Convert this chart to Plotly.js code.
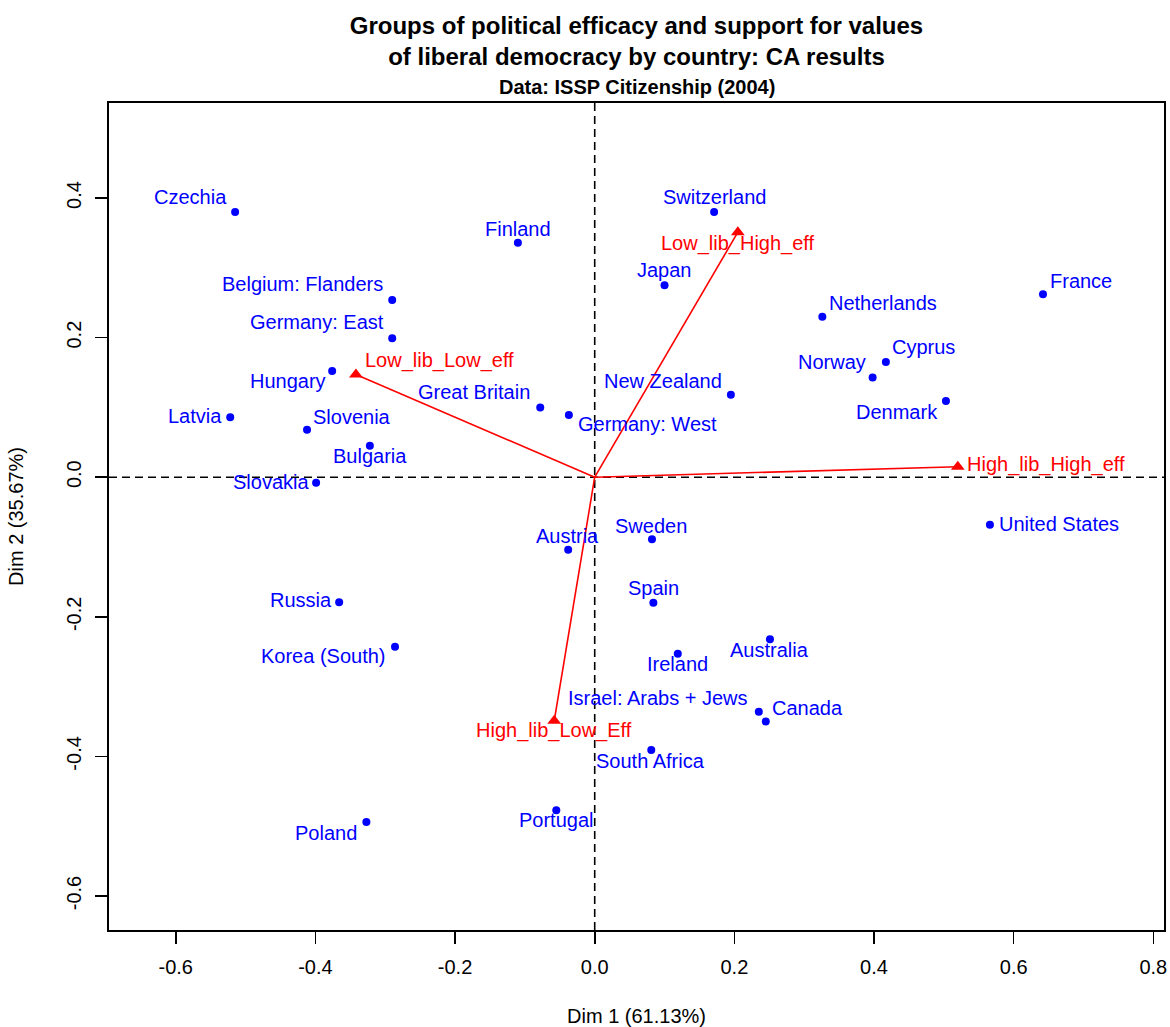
<!DOCTYPE html>
<html>
<head>
<meta charset="utf-8">
<script src="https://cdn.plot.ly/plotly-3.0.1.min.js"></script>
<style>
  html, body { margin: 0; padding: 0; background: #ffffff; }
  #chart { width: 1170px; height: 1027px; }
</style>
</head>
<body>
<div id="chart"></div>
<script>
// Correspondence analysis: country (row) coordinates
const countries = [
  "Czechia", "Finland", "Switzerland", "Japan", "Belgium: Flanders",
  "Germany: East", "Hungary", "Latvia", "Slovenia", "Bulgaria",
  "Slovakia", "Great Britain", "Germany: West", "New Zealand", "Netherlands",
  "France", "Cyprus", "Norway", "Denmark", "United States",
  "Sweden", "Austria", "Spain", "Russia", "Korea (South)",
  "Australia", "Ireland", "Israel: Arabs + Jews", "Canada", "South Africa",
  "Portugal", "Poland"
];
const countryDim1 = [
  -0.515, -0.110, 0.171, 0.100, -0.290,
  -0.290, -0.376, -0.522, -0.412, -0.322,
  -0.399, -0.078, -0.037, 0.195, 0.326,
  0.642, 0.417, 0.398, 0.503, 0.566,
  0.082, -0.038, 0.084, -0.366, -0.286,
  0.251, 0.119, 0.235, 0.245, 0.081,
  -0.055, -0.327
];
const countryDim2 = [
  0.380, 0.336, 0.380, 0.275, 0.254,
  0.199, 0.152, 0.086, 0.068, 0.045,
  -0.008, 0.100, 0.089, 0.118, 0.230,
  0.262, 0.165, 0.143, 0.109, -0.068,
  -0.089, -0.104, -0.180, -0.179, -0.243,
  -0.232, -0.253, -0.336, -0.350, -0.391,
  -0.477, -0.494
];

// Column coordinates: efficacy / liberal-values groups
const groups = ["Low_lib_High_eff", "Low_lib_Low_eff", "High_lib_High_eff", "High_lib_Low_Eff"];
const groupDim1 = [0.205, -0.342, 0.520, -0.058];
const groupDim2 = [0.351, 0.147, 0.015, -0.349];

// Axis ticks
const xTicks = [-0.6, -0.4, -0.2, 0.0, 0.2, 0.4, 0.6, 0.8];
const yTicks = [-0.6, -0.4, -0.2, 0.0, 0.2, 0.4];

// Label placement (pixel offset of each label's centre from its point; +dy = down)
const countryLabelDx = [
  -45, 0, 0, 0, -90,
  -75, -44, -35, 45, 0,
  -45, -66, 79, -68, 61,
  38, 38, -41, -49, 69,
  -1, -1, 0, -38, -72,
  0, 0, -101, 42, -1,
  0, -40
];
const countryLabelDy = [
  -15, -14, -15, -15, -16,
  -16, 10, -1, -13, 10,
  -1, -15, 9, -14, -14,
  -13, -15, -15, 11, -1,
  -13, -14, -15, -2, 9,
  11, 10, -14, -14, 11,
  10, 11
];
const groupLabelDx = [0, 84, 88, 0];
const groupLabelDy = [11, -14, -2, 10];

const FONT = "Liberation Sans, Arial, Helvetica, sans-serif";
const BLUE = "#0000ff";
const RED = "#ff0000";

// Plain hyphen-minus tick text, one decimal
const fmtTick = v => v.toFixed(1);

// Segments from the origin to each group point
const segX = [], segY = [];
groupDim1.forEach((gx, i) => {
  segX.push(0, gx, null);
  segY.push(0, groupDim2[i], null);
});

const traces = [
  {
    type: "scatter", mode: "lines",
    x: segX, y: segY,
    line: { color: RED, width: 1.6 },
    hoverinfo: "skip", showlegend: false
  },
  {
    type: "scatter", mode: "markers",
    x: countryDim1, y: countryDim2, text: countries,
    marker: { color: BLUE, size: 8, symbol: "circle", line: { width: 0 } },
    hoverinfo: "text", showlegend: false
  },
  {
    type: "scatter", mode: "markers",
    x: groupDim1, y: groupDim2, text: groups,
    marker: { color: RED, size: 12, symbol: "triangle-up", line: { width: 0 } },
    hoverinfo: "text", showlegend: false
  }
];

const annotations = [];
countries.forEach((name, i) => {
  annotations.push({
    x: countryDim1[i], y: countryDim2[i], xref: "x", yref: "y",
    text: name, showarrow: false,
    xanchor: "center", yanchor: "middle",
    xshift: countryLabelDx[i], yshift: -countryLabelDy[i],
    font: { family: FONT, size: 20, color: BLUE }
  });
});
groups.forEach((name, i) => {
  annotations.push({
    x: groupDim1[i], y: groupDim2[i], xref: "x", yref: "y",
    text: name, showarrow: false,
    xanchor: "center", yanchor: "middle",
    xshift: groupLabelDx[i], yshift: -groupLabelDy[i],
    font: { family: FONT, size: 20, color: RED }
  });
});
// Subtitle line under the main title
annotations.push({
  xref: "paper", yref: "paper", x: 0.5, y: 1,
  xanchor: "center", yanchor: "middle", yshift: 16,
  text: "<b>Data: ISSP Citizenship (2004)</b>", showarrow: false,
  font: { family: FONT, size: 20, color: "#000000" }
});

const axisCommon = {
  showgrid: false, zeroline: false,
  showline: true, linecolor: "#000000", linewidth: 1.6, mirror: true,
  ticks: "outside", ticklen: 12, tickwidth: 1.6, tickcolor: "#000000",
  tickfont: { family: FONT, size: 20, color: "#000000" },
  tickmode: "array", ticklabelstandoff: 6
};

const layout = {
  width: 1170, height: 1027,
  paper_bgcolor: "#ffffff", plot_bgcolor: "#ffffff",
  margin: { l: 109, r: 6, t: 103, b: 97 },
  title: {
    text: "<b>Groups of political efficacy and support for values<br>of liberal democracy by country: CA results</b>",
    font: { family: FONT, size: 24, color: "#000000" },
    xref: "paper", x: 0.5, xanchor: "center",
    yref: "container", y: 1 - 34 / 1027, yanchor: "middle"
  },
  xaxis: Object.assign({}, axisCommon, {
    range: [-0.6956, 0.8153], tickvals: xTicks, ticktext: xTicks.map(fmtTick),
    title: { text: "Dim 1 (61.13%)", font: { family: FONT, size: 20, color: "#000000" }, standoff: 38 }
  }),
  yaxis: Object.assign({}, axisCommon, {
    range: [-0.6487, 0.5361], tickvals: yTicks, ticktext: yTicks.map(fmtTick), tickangle: -90,
    title: { text: "Dim 2 (35.67%)", font: { family: FONT, size: 20, color: "#000000" }, standoff: 34 }
  }),
  shapes: [
    { type: "line", xref: "paper", x0: 0, x1: 1, yref: "y", y0: 0, y1: 0,
      line: { color: "#000000", width: 1.6, dash: "8px,5px" }, layer: "below" },
    { type: "line", yref: "paper", y0: 0, y1: 1, xref: "x", x0: 0, x1: 0,
      line: { color: "#000000", width: 1.6, dash: "8px,5px" }, layer: "below" }
  ],
  annotations: annotations,
  showlegend: false
};

Plotly.newPlot("chart", traces, layout, { displayModeBar: false, staticPlot: true });
</script>
</body>
</html>
